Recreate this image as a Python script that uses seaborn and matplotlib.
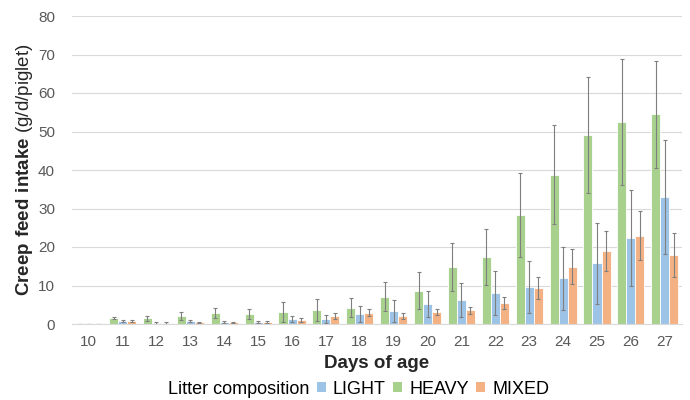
import numpy as np
import pandas as pd
import matplotlib
matplotlib.use("Agg")
import matplotlib.pyplot as plt
import seaborn as sns
from matplotlib.patches import Patch

# values
days = list(range(10, 28))
heavy = [0, 1.6, 1.5, 2.1, 2.9, 2.6, 3.2, 3.7, 4.2, 7.1, 8.6, 14.8, 17.4, 28.3, 38.8, 49.1, 52.5, 54.5]
light = [0, 0.8, 0.3, 0.8, 0.5, 0.6, 1.3, 1.3, 2.6, 3.4, 5.2, 6.2, 8.1, 9.6, 11.9, 15.8, 22.3, 33.0]
mixed = [0, 0.8, 0.3, 0.4, 0.4, 0.6, 1.0, 2.1, 2.9, 2.1, 3.1, 3.6, 5.5, 9.4, 14.9, 19.0, 22.9, 17.9]
heavy_err = [0, 0.3, 0.6, 1.0, 1.3, 1.3, 2.6, 2.9, 2.5, 3.7, 4.8, 6.3, 7.2, 10.9, 12.9, 15.0, 16.4, 13.9]
light_err = [0, 0.3, 0.2, 0.3, 0.2, 0.3, 0.9, 1.0, 2.0, 2.9, 3.5, 4.4, 5.7, 6.7, 8.2, 10.5, 12.4, 14.7]
mixed_err = [0, 0.3, 0.2, 0.2, 0.2, 0.3, 0.5, 0.7, 0.9, 0.7, 0.8, 0.9, 1.6, 2.9, 4.6, 5.2, 6.4, 5.7]

groups = ["HEAVY", "LIGHT", "MIXED"]
colors = {"HEAVY": "#A9D18E", "LIGHT": "#9DC3E6", "MIXED": "#F4B183"}

df = pd.DataFrame({
    "day": days * 3,
    "value": heavy + light + mixed,
    "err": heavy_err + light_err + mixed_err,
    "group": ["HEAVY"] * 18 + ["LIGHT"] * 18 + ["MIXED"] * 18,
})

sns.set_style("white")
plt.rcParams["font.family"] = ["Liberation Sans", "DejaVu Sans"]
plt.rcParams["mathtext.fontset"] = "custom"
plt.rcParams["mathtext.bf"] = "Liberation Sans:bold"
plt.rcParams["mathtext.rm"] = "Liberation Sans"

fig = plt.figure(figsize=(6.9, 4.0), dpi=100)
ax = fig.add_axes([0.104, 0.19, 0.884, 0.77])

sns.barplot(data=df, x="day", y="value", hue="group", hue_order=groups,
            palette=colors, width=0.8, errorbar=None, edgecolor="white",
            linewidth=0.6, ax=ax, saturation=1)

# error bars at the centre of each bar
for cont, g in zip(ax.containers, groups):
    xs = [p.get_x() + p.get_width() / 2 for p in cont.patches]
    sub = df[df.group == g]
    ax.errorbar(xs, sub["value"], yerr=sub["err"], fmt="none",
                ecolor="#7F7F7F", elinewidth=0.8, capsize=1.5, capthick=0.8)

ax.set_ylim(0, 80)
ax.set_yticks(range(0, 81, 10))
ax.set_xlim(-0.5, len(days) - 0.5)
ax.yaxis.grid(True, color="#D9D9D9", linewidth=0.8)
ax.set_axisbelow(True)
for s in ["top", "right", "left"]:
    ax.spines[s].set_visible(False)
ax.spines["bottom"].set_color("#D9D9D9")
ax.tick_params(axis="both", length=0, labelsize=11, labelcolor="#595959")
ax.tick_params(axis="x", pad=8)
ax.tick_params(axis="y", pad=12)

ax.set_xlabel("Days of age", fontsize=13.5, fontweight="bold", labelpad=4)
ax.set_ylabel(r"$\bf{Creep\ feed\ intake}$ (g/d/piglet)", fontsize=13.5, labelpad=2)

ax.get_legend().remove()
handles = [Patch(facecolor="none", edgecolor="none")] + \
          [Patch(facecolor=colors[g], edgecolor="none") for g in ["LIGHT", "HEAVY", "MIXED"]]
labels = ["Litter composition", "LIGHT", "HEAVY", "MIXED"]
fig.legend(handles, labels, loc="lower center", bbox_to_anchor=(0.508, -0.035), ncol=4,
           frameon=False, fontsize=13, handlelength=0.5, handleheight=0.5,
           handletextpad=0.4, columnspacing=0.4, labelcolor="#000000")

fig.savefig("out.png", dpi=100)
